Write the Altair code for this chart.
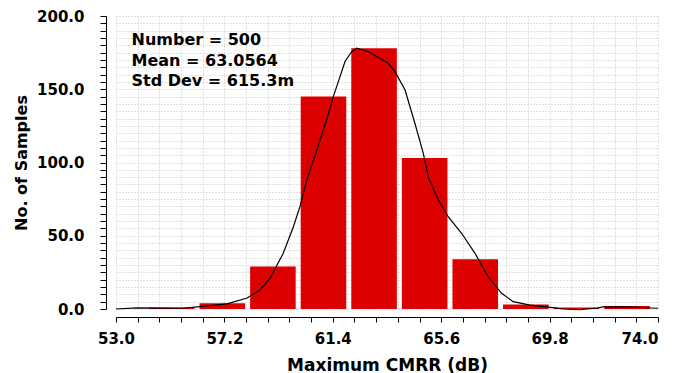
import altair as alt
import pandas as pd

# histogram bins (edges) and counts
bin_edges = [54.16, 56.12, 58.08, 60.04, 62.00, 63.96, 65.92, 67.88, 69.84, 71.80, 73.76]
bin_counts = [1, 4, 29, 145, 178, 103, 34, 3, 1, 2]

# density-like curve
curve_x = [53.0, 53.81, 55.56, 56.25, 57.30, 58.08, 58.58, 58.97, 59.48, 59.87, 60.13,
           60.39, 60.78, 61.16, 61.42, 61.68, 61.87, 62.13, 62.33, 62.78, 63.55, 63.81,
           64.20, 64.58, 64.91, 65.10, 65.49, 65.87, 66.39, 66.91, 67.42, 67.94, 68.39,
           69.04, 69.70, 70.32, 70.98, 71.64, 71.87, 72.91, 73.69, 74.0]
curve_y = [0, 0.8, 0.5, 1.6, 3.5, 7.5, 13, 21, 38, 56, 70,
           88, 108.5, 129, 145, 158.6, 168.8, 175.6, 178, 175.6, 167.7, 162,
           149.5, 126.8, 106, 90, 74.4, 63, 51.7, 38, 22, 10.7, 5,
           2.7, 1.4, 0, -0.5, 0.7, 1.4, 1.4, 0.7, 0.5]

x_major = [53.0, 57.2, 61.4, 65.6, 69.8, 74.0]
y_major = [0, 50, 100, 150, 200]
stats_lines = ["Number = 500", "Mean = 63.0564", "Std Dev = 615.3m"]

x_ticks = [round(53.0 + 0.84 * k, 2) for k in range(26)]
y_ticks = list(range(0, 205, 5))

FONT = "DejaVu Sans"

bars_df = pd.DataFrame({"start": bin_edges[:-1], "end": bin_edges[1:], "count": bin_counts})
curve_df = pd.DataFrame({"x": curve_x, "y": curve_y})

xscale = alt.Scale(domain=[53, 74], nice=False, zero=False)
yscale = alt.Scale(domain=[0, 200], nice=False)

xaxis = alt.Axis(
    values=x_ticks,
    labelExpr="(round((datum.value-53)*100) % 420 == 0) ? format(datum.value, '.1f') : ''",
    labelOverlap=False, labelFlush=False,
    labelAlign={"condition": {"test": "datum.value > 73.9", "value": "right"}, "value": "center"},
    grid=True, gridColor="#c4c4c4", gridDash=[1, 2], gridWidth=1,
    domainColor="black", tickColor="black", tickSize=5, offset=8,
    labelFont=FONT, labelFontWeight="bold", labelFontSize=15, labelColor="black",
    labelPadding=9,
    title="Maximum CMRR (dB)", titleFont=FONT, titleFontWeight="bold", titleFontSize=17,
    titleColor="black", titleBaseline="alphabetic", titleY=53, titleX=271,
)
yaxis = alt.Axis(
    values=y_ticks,
    labelExpr="(datum.value % 50 == 0) ? format(datum.value, '.1f') : ''",
    labelOverlap=False, labelFlush=False,
    grid=True, gridColor="#c4c4c4", gridDash=[1, 2], gridWidth=1,
    domainColor="black", tickColor="black", tickSize=6, offset=10,
    labelFont=FONT, labelFontWeight="bold", labelFontSize=15, labelColor="black",
    labelPadding=16,
    title="No. of Samples", titleFont=FONT, titleFontWeight="bold", titleFontSize=16,
    titleColor="black", titleBaseline="alphabetic", titleAngle=270,
    titleX=-80, titleY=146.5, titleAlign="center",
)

bars = alt.Chart(bars_df).mark_bar(color="#dd0000", binSpacing=5).encode(
    x=alt.X("start:Q", bin="binned", scale=xscale, axis=xaxis),
    x2="end:Q",
    y=alt.Y("count:Q", scale=yscale, axis=yaxis),
)

curve = alt.Chart(curve_df).mark_line(color="black", strokeWidth=1.2, clip=False).encode(
    x=alt.X("x:Q", scale=xscale, axis=xaxis),
    y=alt.Y("y:Q", scale=yscale, axis=yaxis),
)

stats = alt.Chart(pd.DataFrame({"t": [0]})).mark_text(
    text=stats_lines, align="left", baseline="alphabetic", lineHeight=20.5,
    font=FONT, fontWeight="bold", fontSize=16, color="black",
).encode(x=alt.value(15.5), y=alt.value(29))

chart = alt.layer(bars, curve, stats).properties(
    width=542, height=293,
    autosize=alt.AutoSizeParams(type="none"),
    padding={"left": 108, "top": 8, "right": 10, "bottom": 64},
    background="white",
).configure_view(stroke=None)

chart.save("out.html", embed_options={"renderer": "svg", "actions": False})
